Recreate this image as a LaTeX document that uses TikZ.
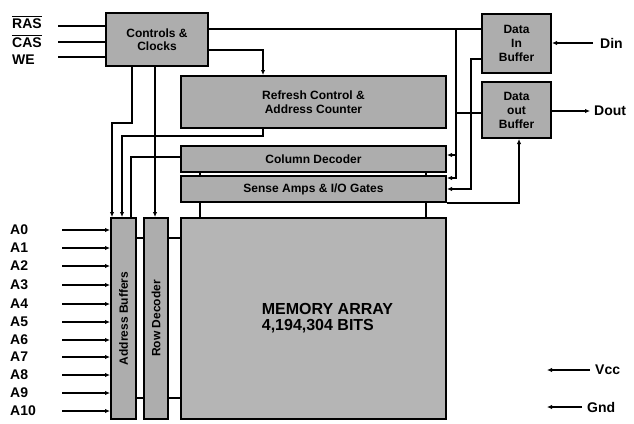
\documentclass[tikz,border=0pt]{standalone}
\usepackage{fontspec}
\setmainfont{Liberation Sans}
\usepackage{graphicx}
\usetikzlibrary{arrows.meta}
\newcommand\myovl[1]{\leavevmode\vbox{\hrule height 1.3pt \kern1.2pt \hbox{#1}}}
\begin{document}
\begin{tikzpicture}[x=1pt,y=-1pt,
  box/.style={draw, line width=2pt, fill=black!32, inner sep=0pt,
    font=\bfseries\fontsize{12}{13.5}\selectfont, align=center, anchor=north west},
  wire/.style={line width=1.4pt},
  arr/.style={wire, -{Latex[length=5pt,width=4.5pt]}},
  lab/.style={font=\bfseries\fontsize{14}{14}\selectfont, inner sep=0pt}]
\useasboundingbox (0,0) rectangle (634,423);

% boxes
\node[box, minimum width=102pt, minimum height=53pt] (ctl) at (105,12) {Controls \&\\Clocks};
\node[box, minimum width=265pt, minimum height=52pt] (refresh) at (180,75) {Refresh Control \&\\Address Counter};
\node[box, minimum width=69pt, minimum height=59pt, font=\bfseries\fontsize{12}{14}\selectfont] (din) at (481,13) {Data\\In\\Buffer};
\node[box, minimum width=69pt, minimum height=56pt, font=\bfseries\fontsize{12}{14}\selectfont] (dout) at (481,81) {Data\\out\\Buffer};
\node[box, minimum width=265pt, minimum height=26pt] (coldec) at (180,145) {Column Decoder};
\node[box, minimum width=265pt, minimum height=26pt] (sense) at (180,175) {Sense Amps \& I/O Gates};
\node[box, minimum width=265pt, minimum height=201pt, fill=black!29, align=left,
  font=\bfseries\fontsize{16}{16}\selectfont] (mem) at (180,217) {\hspace*{28pt}MEMORY ARRAY\\\hspace*{28pt}4,194,304 BITS};
\node[box, minimum width=25pt, minimum height=201pt] (abuf) at (110,217) {\rotatebox{90}{Address Buffers}};
\node[box, minimum width=24pt, minimum height=201pt] (rdec) at (143,217) {\rotatebox{90}{Row Decoder}};

% control inputs
\node[lab, anchor=base west] (lras) at (12,28) {\myovl{RAS}};
\node[lab, anchor=base west] (lcas) at (12,47) {\myovl{CAS}};
\node[lab, anchor=base west] (lwe) at (12,64) {WE};
\coordinate (sras) at (58,26);
\coordinate (scas) at (58,42);
\coordinate (swe) at (58,57);
\draw[wire] (sras) -- (sras -| ctl.west);
\draw[wire] (scas) -- (scas -| ctl.west);
\draw[wire] (swe) -- (swe -| ctl.west);

% controls to data buffers and refresh
\draw[wire] (ctl.east |- 0,29) -- (din.west |- 0,29);
\draw[arr] (ctl.east |- 0,50) -| (refresh.north -| 263,0);
\coordinate (ja) at (456,29);
\coordinate (jb) at (456,155);
\coordinate (jc) at (456,113);
\draw[arr] (ja) |- (sense.east |- 0,178);
\draw[arr] (jb) -- (coldec.east |- jb);
\draw[wire] (jc) -- (dout.west |- jc);
\draw[arr] (din.west |- 0,59) -| (471,189) -- (sense.east |- 0,189);
\draw[arr] (sense.south east) -| (dout.south -| 519,0);

% data pins
\node[lab, anchor=west] (ldin) at (600,43) {Din};
\node[lab, anchor=west] (ldout) at (594,111) {Dout};
\node[lab, anchor=west] (lvcc) at (595,370) {Vcc};
\node[lab, anchor=west] (lgnd) at (587,407) {Gnd};
\coordinate (sdin) at (593,43);
\draw[arr] (sdin) -- (din.east |- sdin);
\draw[arr] (dout.east |- 0,111) -- (590,111);
\draw[arr] (590,370) -- (547,370);
\draw[arr] (582,407) -- (547,407);

% vertical control lines
\draw[arr] (ctl.south -| 132,0) |- (112,123) -- (abuf.north -| 112,0);
\draw[arr] (ctl.south -| 155,0) -- (rdec.north -| 155,0);
\draw[arr] (refresh.south -| 263,0) |- (122,136) -- (abuf.north -| 122,0);
\draw[wire] (coldec.west |- 0,157) -| (abuf.north -| 131,0);

% internal links
\foreach \y in {238,398}{
  \draw[wire] (abuf.east |- 0,\y) -- (rdec.west |- 0,\y);
  \draw[wire] (rdec.east |- 0,\y) -- (mem.west |- 0,\y);
}
\foreach \x in {200,426}{
  \draw[wire] (coldec.south -| \x,0) -- (sense.north -| \x,0);
  \draw[wire] (sense.south -| \x,0) -- (mem.north -| \x,0);
}

% address inputs
\foreach \i/\y in {0/230,1/248,2/266,3/285,4/304,5/322,6/340,7/357,8/375,9/393,10/411}{
  \node[lab, anchor=west] (a\i) at (10,\y) {A\i};
  \draw[arr] (62,\y) -- (abuf.west |- 0,\y);
}
\end{tikzpicture}
\end{document}
